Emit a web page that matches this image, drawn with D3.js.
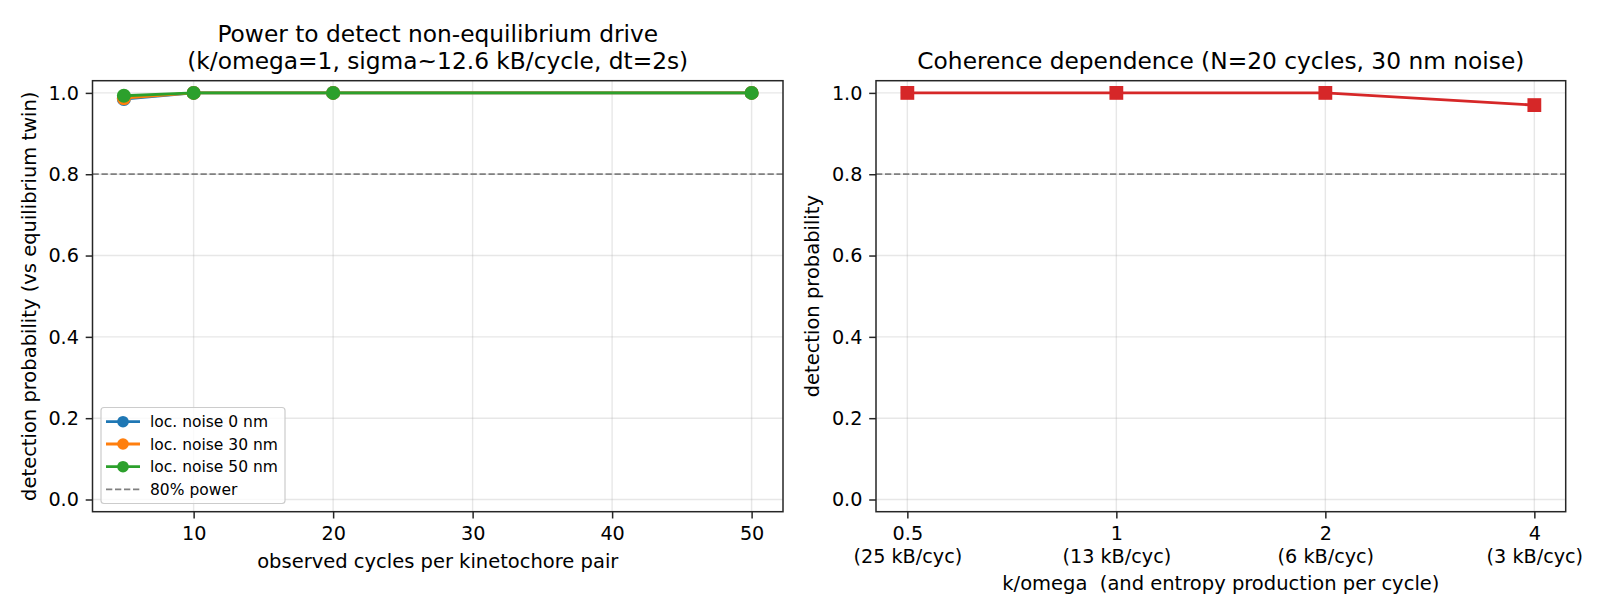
<!DOCTYPE html>
<html><head><meta charset="utf-8">
<script src="https://cdn.jsdelivr.net/npm/d3@7/dist/d3.min.js"></script>
<style>body{margin:0;background:#fff}svg{display:block}text{font-family:"DejaVu Sans",sans-serif;fill:#000}</style>
</head><body>
<svg id="chart" width="1610" height="616"></svg>
<script>
// ---- data ----
const cycles = [5, 10, 20, 50];
const noise0 = [0.985, 1.0, 1.0, 1.0];
const noise30 = [0.987, 1.0, 1.0, 1.0];
const noise50 = [0.993, 1.0, 1.0, 1.0];
const seriesNames = ["loc. noise 0 nm", "loc. noise 30 nm", "loc. noise 50 nm"];
const kOmega = ["0.5", "1", "2", "4"];
const entropyLabels = ["(25 kB/cyc)", "(13 kB/cyc)", "(6 kB/cyc)", "(3 kB/cyc)"];
const coherence = [1.0, 1.0, 1.0, 0.97];
const xTicksLeft = [10, 20, 30, 40, 50];
const yTicks = [0, 0.2, 0.4, 0.6, 0.8, 1.0];
const powerLevel = 0.8;

const colors = ["#1f77b4", "#ff7f0e", "#2ca02c"];
const red = "#d62728";
const svg = d3.select("#chart");
const yTop = 80.7, yBot = 511.7;
const y = d3.scaleLinear().domain([-0.03, 1.03]).range([yBot, yTop]);
const TICK = 19.2, LABEL = 19.5, TITLE = 23.3, LEG = 15.5;
const TL = 6.8, TP = 6.8, LW = 2.8, SW = 1.5;

function frame(g, x0, x1) {
  g.append("rect").attr("x", x0).attr("y", yTop).attr("width", x1 - x0).attr("height", yBot - yTop)
    .attr("fill", "none").attr("stroke", "#262626").attr("stroke-width", SW);
}
function yAxis(g, x0, x1) {
  g.append("g").selectAll("line").data(yTicks).join("line")
    .attr("x1", x0).attr("x2", x1).attr("y1", d => y(d)).attr("y2", d => y(d))
    .attr("stroke", "#b0b0b0").attr("stroke-opacity", 0.3).attr("stroke-width", 1.4);
  const gg = g.append("g").attr("transform", `translate(${x0},0)`)
    .call(d3.axisLeft(y).tickValues(yTicks).tickFormat(d3.format(".1f")).tickSize(TL).tickPadding(TP));
  gg.select(".domain").remove();
  gg.selectAll(".tick line").attr("stroke", "#262626").attr("stroke-width", SW);
  gg.selectAll(".tick text").attr("font-size", TICK).attr("font-family", "DejaVu Sans").attr("fill", "#000");
}

// ---------- left panel ----------
const L0 = 92.5, L1 = 783;
const xL = d3.scaleLinear().domain([2.75, 52.25]).range([L0, L1]);
const gL = svg.append("g");
gL.append("g").selectAll("line").data(xTicksLeft).join("line")
  .attr("x1", d => xL(d)).attr("x2", d => xL(d)).attr("y1", yTop).attr("y2", yBot)
  .attr("stroke", "#b0b0b0").attr("stroke-opacity", 0.3).attr("stroke-width", 1.4);
yAxis(gL, L0, L1);
const axL = gL.append("g").attr("transform", `translate(0,${yBot})`)
  .call(d3.axisBottom(xL).tickValues(xTicksLeft).tickFormat(d3.format("d")).tickSize(TL));
axL.select(".domain").remove();
axL.selectAll(".tick line").attr("stroke", "#262626").attr("stroke-width", SW);
axL.selectAll(".tick text").attr("font-size", TICK).attr("font-family", "DejaVu Sans").attr("fill", "#000")
  .attr("y", 28.3).attr("dy", null);

gL.append("line").attr("x1", L0).attr("x2", L1).attr("y1", y(powerLevel)).attr("y2", y(powerLevel))
  .attr("stroke", "#808080").attr("stroke-width", 1.7).attr("stroke-dasharray", "6.3,2.7");

const series = [noise0, noise30, noise50];
const line = d3.line().x((d, i) => xL(cycles[i])).y(d => y(d));
series.forEach((s, k) => {
  gL.append("path").datum(s).attr("d", line).attr("fill", "none")
    .attr("stroke", colors[k]).attr("stroke-width", LW);
  gL.append("g").selectAll("circle").data(s).join("circle")
    .attr("cx", (d, i) => xL(cycles[i])).attr("cy", d => y(d)).attr("r", 7).attr("fill", colors[k]);
});
frame(gL, L0, L1);

// legend
const lg = gL.append("g");
lg.append("rect").attr("x", 101).attr("y", 407.5).attr("width", 184).attr("height", 96).attr("rx", 3)
  .attr("fill", "#fff").attr("fill-opacity", 0.8).attr("stroke", "#cccccc").attr("stroke-width", 1.2);
const rows = [421.7, 444, 466.7, 489.3];
seriesNames.forEach((n, k) => {
  lg.append("line").attr("x1", 106).attr("x2", 140).attr("y1", rows[k]).attr("y2", rows[k])
    .attr("stroke", colors[k]).attr("stroke-width", LW);
  lg.append("circle").attr("cx", 123).attr("cy", rows[k]).attr("r", 5.8).attr("fill", colors[k]);
  lg.append("text").attr("x", 150).attr("y", rows[k]).attr("dy", "0.36em").attr("font-size", LEG).text(n);
});
lg.append("line").attr("x1", 106).attr("x2", 140).attr("y1", rows[3]).attr("y2", rows[3])
  .attr("stroke", "#808080").attr("stroke-width", 1.7).attr("stroke-dasharray", "6.3,2.7");
lg.append("text").attr("x", 150).attr("y", rows[3]).attr("dy", "0.36em").attr("font-size", LEG).text("80% power");

gL.append("text").attr("x", (L0 + L1) / 2).attr("y", 42).attr("text-anchor", "middle").attr("font-size", TITLE)
  .text("Power to detect non-equilibrium drive");
gL.append("text").attr("x", (L0 + L1) / 2).attr("y", 69).attr("text-anchor", "middle").attr("font-size", TITLE)
  .text("(k/omega=1, sigma~12.6 kB/cycle, dt=2s)");
gL.append("text").attr("x", (L0 + L1) / 2).attr("y", 568).attr("text-anchor", "middle").attr("font-size", LABEL)
  .text("observed cycles per kinetochore pair");
gL.append("text").attr("transform", `translate(35.6,${(yTop + yBot) / 2}) rotate(-90)`).attr("text-anchor", "middle")
  .attr("font-size", LABEL).text("detection probability (vs equilibrium twin)");

// ---------- right panel ----------
const R0 = 876, R1 = 1565.7;
const xR = d3.scaleLinear().domain([-0.15, 3.15]).range([R0, R1]);
const idx = kOmega.map((d, i) => i);
const gR = svg.append("g");
gR.append("g").selectAll("line").data(idx).join("line")
  .attr("x1", d => xR(d)).attr("x2", d => xR(d)).attr("y1", yTop).attr("y2", yBot)
  .attr("stroke", "#b0b0b0").attr("stroke-opacity", 0.3).attr("stroke-width", 1.4);
yAxis(gR, R0, R1);
const axR = gR.append("g").attr("transform", `translate(0,${yBot})`)
  .call(d3.axisBottom(xR).tickValues(idx).tickFormat(() => "").tickSize(TL));
axR.select(".domain").remove();
axR.selectAll(".tick line").attr("stroke", "#262626").attr("stroke-width", SW);
axR.selectAll(".tick text").each(function (d) {
  const t = d3.select(this).attr("font-size", TICK).attr("fill", "#000").attr("y", null).attr("dy", null);
  t.append("tspan").attr("x", 0).attr("y", 28.3).text(kOmega[d]);
  t.append("tspan").attr("x", 0).attr("y", 51.3).text(entropyLabels[d]);
});

gR.append("line").attr("x1", R0).attr("x2", R1).attr("y1", y(powerLevel)).attr("y2", y(powerLevel))
  .attr("stroke", "#808080").attr("stroke-width", 1.7).attr("stroke-dasharray", "6.3,2.7");
const lineR = d3.line().x((d, i) => xR(i)).y(d => y(d));
gR.append("path").datum(coherence).attr("d", lineR).attr("fill", "none").attr("stroke", red).attr("stroke-width", LW);
const sq = 13.8;
gR.append("g").selectAll("rect").data(coherence).join("rect")
  .attr("x", (d, i) => xR(i) - sq / 2).attr("y", d => y(d) - sq / 2).attr("width", sq).attr("height", sq).attr("fill", red);
frame(gR, R0, R1);

gR.append("text").attr("x", (R0 + R1) / 2).attr("y", 69).attr("text-anchor", "middle").attr("font-size", TITLE)
  .text("Coherence dependence (N=20 cycles, 30 nm noise)");
gR.append("text").attr("x", (R0 + R1) / 2).attr("y", 590).attr("text-anchor", "middle").attr("font-size", LABEL)
  .style("white-space", "pre").text("k/omega  (and entropy production per cycle)");
gR.append("text").attr("transform", `translate(819,${(yTop + yBot) / 2}) rotate(-90)`).attr("text-anchor", "middle")
  .attr("font-size", LABEL).text("detection probability");
</script>
</body></html>
